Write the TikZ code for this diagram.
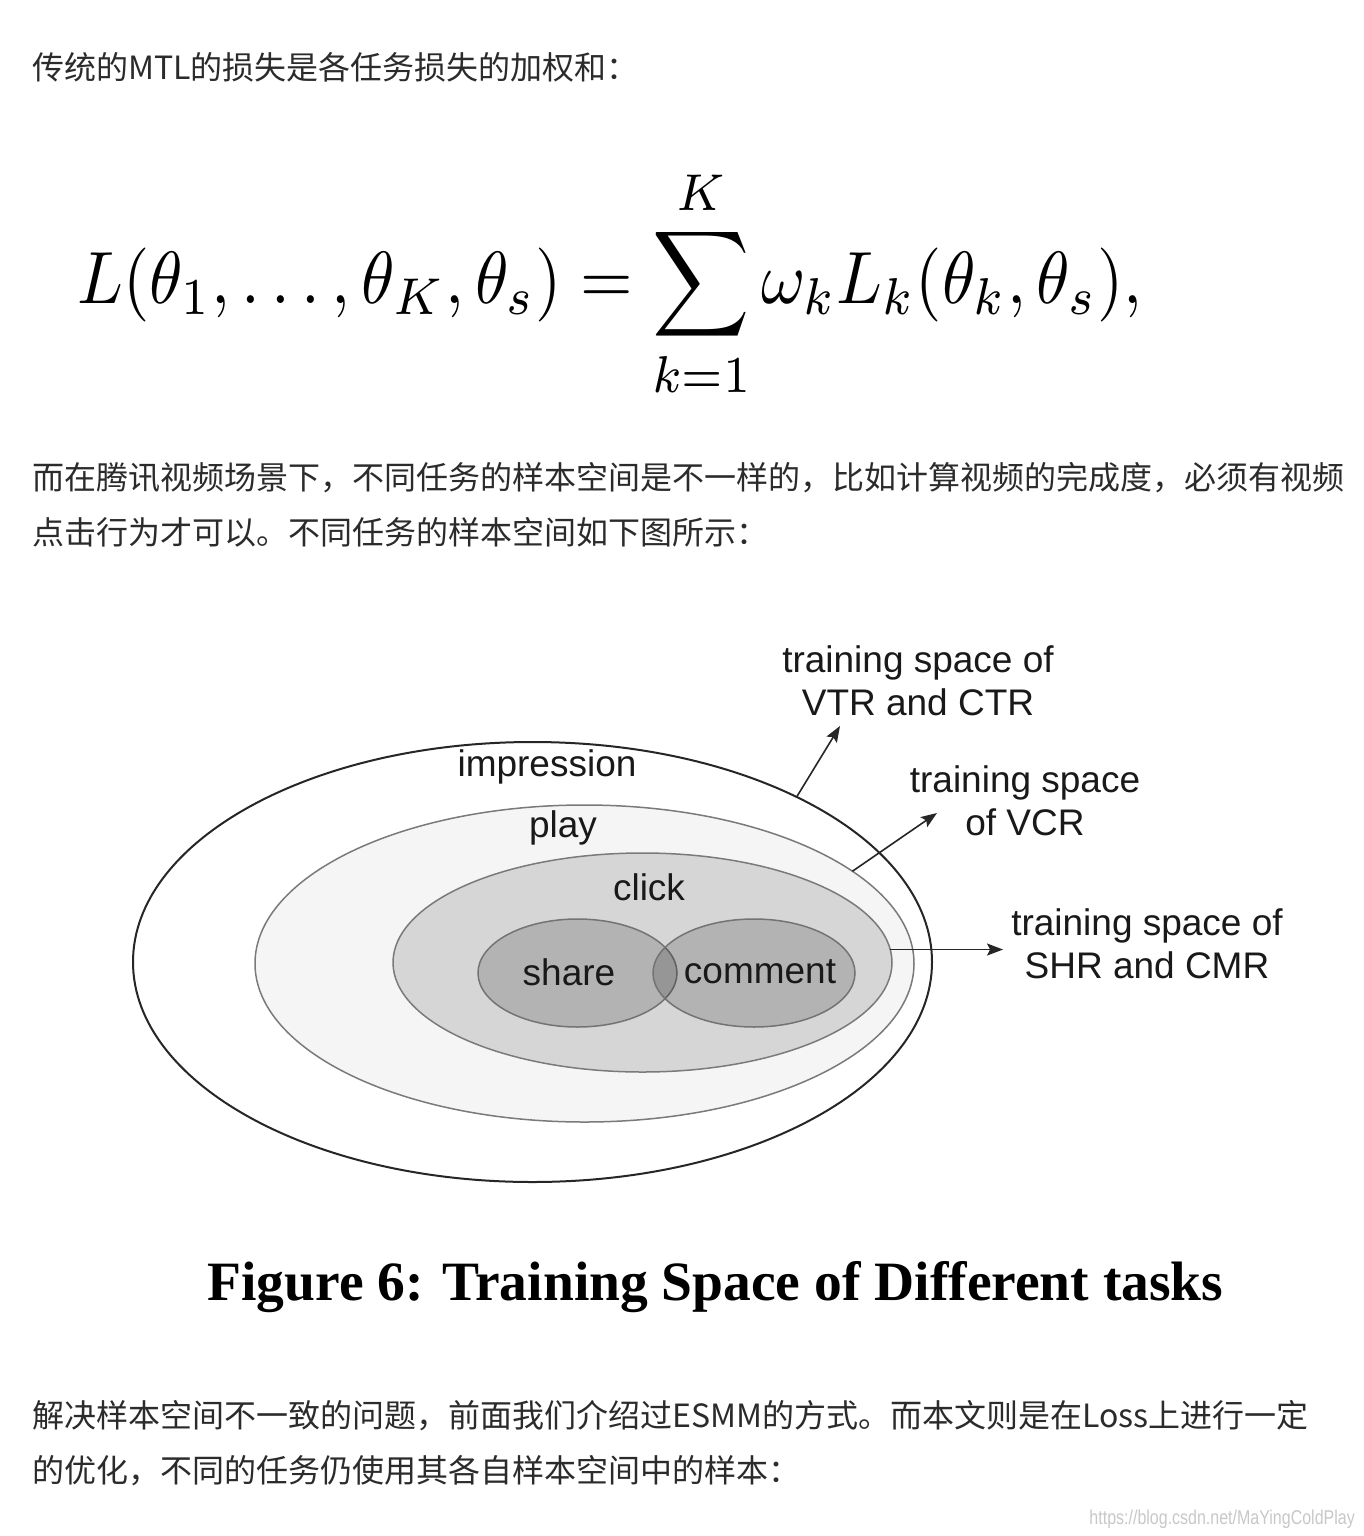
\documentclass[tikz,border=0pt]{standalone}
\usepackage{fontspec}
\usepackage{graphicx}
\usepackage{amsmath}
\setmainfont{Liberation Sans}
\newfontfamily\cjkfont{Noto Sans CJK SC}
\newfontfamily\capfont{Liberation Serif}
\usepackage{xcolor}
\definecolor{bodytext}{HTML}{2b2b2b}
\definecolor{playfill}{HTML}{f5f5f5}
\definecolor{clickfill}{HTML}{d6d6d6}
\definecolor{rimgray}{HTML}{7a7a7a}
\definecolor{marklight}{HTML}{c8c8c8}
\usepackage{tikz}
\usetikzlibrary{shapes.geometric, arrows.meta}

\begin{document}
\begin{tikzpicture}[
  x=1pt, y=-1pt,
  para/.style={anchor=base west, inner sep=0pt, text=bodytext,
               font=\cjkfont\fontsize{32}{32}\selectfont},
  space/.style={ellipse, inner sep=0pt, outer sep=0pt},
  lbl/.style={inner sep=0pt, text=black!90, font=\fontsize{37}{43}\selectfont},
  note/.style={lbl, align=center, inner sep=4pt},
  arr/.style={-{Stealth[length=16pt, width=12pt, inset=3pt]}, line width=1.6pt, draw=black!85}
]
\useasboundingbox (0,0) rectangle (1364,1536);
\fill[white] (0,0) rectangle (1364,1536);

% text above the figure
\node[para] (p1) at (32,80) {传统的MTL的损失是各任务损失的加权和：};
\node[anchor=base, inner sep=0pt] (loss) at (610,303)
  {\scalebox{6.75}[7.4]{$\displaystyle L(\theta_1,\ldots,\theta_K,\theta_s)=\sum_{k=1}^{K}\omega_kL_k(\theta_k,\theta_s),$}};
\node[para] (p2) at (32,489) {而在腾讯视频场景下，不同任务的样本空间是不一样的，比如计算视频的完成度，必须有视频};
\node[para] (p3) at (32,544) {点击行为才可以。不同任务的样本空间如下图所示：};

% sample spaces
\node[space, draw=black!85, line width=2pt, fill=white,
      minimum width=799pt, minimum height=440pt] (imp) at (532.5,962) {};
\node[space, draw=rimgray, line width=1.5pt, fill=playfill,
      minimum width=659pt, minimum height=317pt] (play) at (584.5,963.5) {};
\node[space, draw=rimgray, line width=1.5pt, fill=clickfill,
      minimum width=499pt, minimum height=219pt] (click) at (642.5,962.5) {};
\node[space, draw=black!55, line width=1.5pt, fill=black, fill opacity=0.16,
      minimum width=199pt, minimum height=108pt] (share) at (577.5,973) {};
\node[space, draw=black!55, line width=1.5pt, fill=black, fill opacity=0.16,
      minimum width=202pt, minimum height=108pt] (comment) at (754,973) {};

\node[lbl] (implbl) at (547,767) {impression};
\node[lbl] (playlbl) at (563,828) {play};
\node[lbl] (clicklbl) at (649,887) {click};
\node[lbl] (sharelbl) at (569,972) {share};
\node[lbl] (commentlbl) at (760,972) {comment};

% training spaces
\node[note] (vtr) at (918,681) {training space of\\VTR and CTR};
\node[note] (vcr) at (1025,801) {training space\\of VCR};
\node[note] (shr) at (1147,944) {training space of\\SHR and CMR};

\coordinate (vtr-tip) at (840,726);
\coordinate (vcr-tip) at (937,813);
\draw[arr] (imp.32) -- (vtr-tip);
\draw[arr] (play.19) -- (vcr-tip);
\draw[arr] (click.3.4) -- ([xshift=-4pt]click.3.4 -| shr.west);

\node[anchor=base, inner sep=0pt, text=black,
      font=\capfont\bfseries\fontsize{55.5}{60}\selectfont] (fig) at (715.5,1300)
  {Figure 6: Training Space of Different tasks};

% text below the figure
\node[para] (p4) at (32,1427) {解决样本空间不一致的问题，前面我们介绍过ESMM的方式。而本文则是在Loss上进行一定};
\node[para] (p5) at (32,1482) {的优化，不同的任务仍使用其各自样本空间中的样本：};
\node[anchor=base east, inner sep=0pt, text=marklight, font=\fontsize{20}{20}\selectfont]
  (mark) at (1355,1524) {\scalebox{0.8}[1]{https://blog.csdn.net/MaYingColdPlay}};
\end{tikzpicture}
\end{document}
